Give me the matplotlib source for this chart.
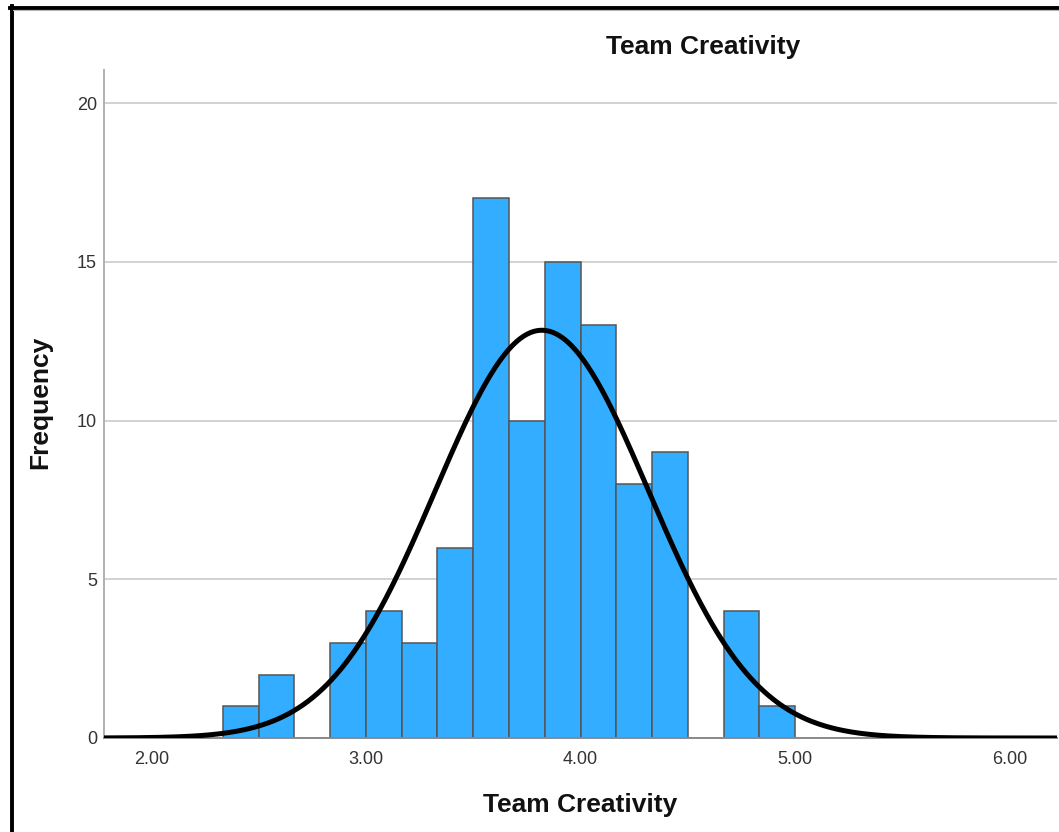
import numpy as np
import matplotlib
matplotlib.use("Agg")
import matplotlib.pyplot as plt
from matplotlib.lines import Line2D

plt.rcParams['font.family'] = ['Liberation Sans', 'DejaVu Sans']

# ---- data ----
bin_start = 2.0 + 1/3
bin_width = 1/6
counts = [1, 2, 0, 3, 4, 3, 6, 17, 10, 15, 13, 8, 9, 0, 4, 1]
n_total = sum(counts)
mean_val = 3.82
sd_val = 0.497
x_ticks = [2.0, 3.0, 4.0, 5.0, 6.0]
x_tick_labels = ["2.00", "3.00", "4.00", "5.00", "6.00"]
y_ticks = [0, 5, 10, 15, 20]
title = "Team Creativity"
x_label = "Team Creativity"
y_label = "Frequency"

W, H = 1059, 832
fig = plt.figure(figsize=(W/100, H/100), dpi=100)
fig.patch.set_facecolor("white")

ax_left, ax_right, ax_top, ax_bottom = 104, 1057, 70, 738
ax = fig.add_axes([ax_left/W, 1-ax_bottom/H, (ax_right-ax_left)/W, (ax_bottom-ax_top)/H])

xmin, xmax = 1.7786, 6.2214
ax.set_xlim(xmin, xmax)
ax.set_ylim(0, 21.04)

# grid
for yv in y_ticks[1:]:
    ax.axhline(yv, color="#d2d2d2", lw=1.4, zorder=0)

lefts = [bin_start + i*bin_width for i in range(len(counts))]
ax.bar(lefts, counts, width=bin_width, align="edge", color="#33adff",
       edgecolor="#555555", linewidth=1.1, zorder=2)

# fitted normal curve
xs = np.linspace(xmin, xmax, 600)
ys = n_total*bin_width/(sd_val*np.sqrt(2*np.pi))*np.exp(-0.5*((xs-mean_val)/sd_val)**2)
ax.plot(xs, ys, color="black", lw=3.6, zorder=3, solid_capstyle="butt")

for s in ["top", "right"]:
    ax.spines[s].set_visible(False)
ax.spines["left"].set_color("#b0b0b0")
ax.spines["left"].set_linewidth(1.4)
ax.spines["bottom"].set_color("#8a8a8a")
ax.spines["bottom"].set_linewidth(1.4)

ax.set_xticks(x_ticks)
ax.set_xticklabels(x_tick_labels)
ax.set_yticks(y_ticks)
ax.set_yticklabels([str(v) for v in y_ticks])
ax.tick_params(axis="both", length=0, labelsize=13, colors="#333333")
ax.tick_params(axis="x", pad=9)
ax.tick_params(axis="y", pad=5)

fig.text(703.5/W, 1-47/H, title, ha="center", va="center", fontsize=19, fontweight="bold", color="#111111")
fig.text(580.5/W, 1-805/H, x_label, ha="center", va="center", fontsize=19, fontweight="bold", color="#111111")
fig.text(40/W, 1-402/H, y_label, ha="center", va="center", rotation=90, fontsize=19, fontweight="bold", color="#111111")

# outer frame (left and top edges visible)
fig.add_artist(Line2D([11.5/W, 11.5/W], [1-6/H, 0], transform=fig.transFigure, color="black", lw=2.8))
fig.add_artist(Line2D([10/W, 1], [1-7.5/H, 1-7.5/H], transform=fig.transFigure, color="black", lw=2.8))
fig.add_artist(Line2D([13/W, 1], [1-10/H, 1-10/H], transform=fig.transFigure, color="#b5b5b5", lw=0.8))

fig.savefig("out.png", dpi=100, facecolor="white")
